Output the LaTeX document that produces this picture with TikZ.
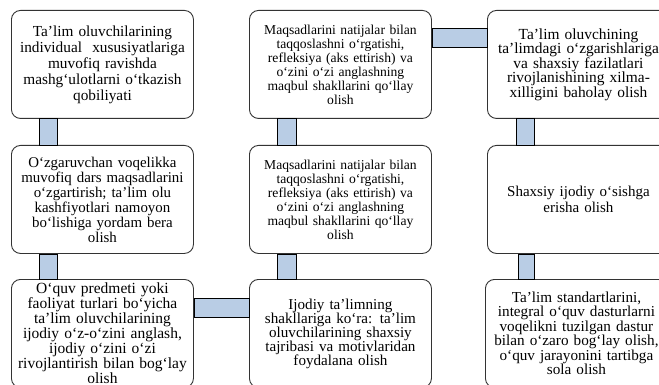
\documentclass[tikz,border=0pt]{standalone}
\usepackage{fontspec}
\setmainfont{Liberation Serif}
\definecolor{linkblue}{RGB}{185,205,229}
\newcommand{\boxfs}[2]{\fontsize{#1}{#2}\selectfont}

\begin{document}
\begin{tikzpicture}[x=1pt,y=-1pt,
		box/.style={draw=black!80, line width=0.9pt, fill=white, rounded corners=9pt, anchor=north west,
			minimum width=182pt, minimum height=108pt, text width=180pt, inner xsep=1pt, align=center},
		link/.style={fill=linkblue, draw=black, line width=0.8pt}]
			\useasboundingbox (0,0) rectangle (659,385);
			\clip (0,0) rectangle (659,385);

			% left column
			\node[box, font=\boxfs{15.3}{16}] (a1) at (11,10) {Ta’lim oluvchilarining\\ individual\ \ xususiyatlariga\\ muvofiq ravishda\\ mashg‘ulotlarni o‘tkazish\\ qobiliyati};
			\node[box, font=\boxfs{14.9}{15}] (a2) at (11,145) {O‘zgaruvchan voqelikka\\ muvofiq dars maqsadlarini\\ o‘zgartirish; ta’lim olu\\ kashfiyotlari namoyon\\ bo‘lishiga yordam bera\\ olish};
			\node[box, font=\boxfs{15.5}{15}] (a3) at (11,279) {O‘quv predmeti yoki\\ faoliyat turlari bo‘yicha\\ ta’lim oluvchilarining\\ ijodiy o‘z-o‘zini anglash,\\ ijodiy o‘zini o‘zi\\ rivojlantirish bilan bog‘lay\\ olish};

			% middle column
			\node[box, font=\boxfs{13.6}{14}] (b1) at (249,10) {Maqsadlarini natijalar bilan\\ taqqoslashni o‘rgatishi,\\ refleksiya (aks ettirish) va\\ o‘zini o‘zi anglashning\\ maqbul shakllarini qo‘llay\\ olish};
			\node[box, font=\boxfs{13.6}{14}] (b2) at (249,145) {Maqsadlarini natijalar bilan\\ taqqoslashni o‘rgatishi,\\ refleksiya (aks ettirish) va\\ o‘zini o‘zi anglashning\\ maqbul shakllarini qo‘llay\\ olish};
			\node[box, font=\boxfs{15.1}{14}] (b3) at (249,279) {Ijodiy ta’limning\\ shakllariga ko‘ra: ta’lim\\ oluvchilarining shaxsiy\\ tajribasi va motivlaridan\\ foydalana olish};

			% right column
			\node[box, font=\boxfs{15.4}{14.5}] (c1) at (487,10) {Ta’lim oluvchining\\ ta’limdagi o‘zgarishlariga\\ va shaxsiy fazilatlari\\ rivojlanishining xilma-\\ xilligini baholay olish};
			\node[box, font=\boxfs{15}{16}] (c2) at (487,145) {Shaxsiy ijodiy o‘sishga\\ erisha olish};
			\node[box, font=\boxfs{15.2}{14.5}] (c3) at (485,279) {Ta’lim standartlarini,\\ integral o‘quv dasturlarni\\ voqelikni tuzilgan dastur\\ bilan o‘zaro bog‘lay olish,\\ o‘quv jarayonini tartibga\\ sola olish};

			% links
			\draw[link] ([xshift=28pt]a1.south west) rectangle ([xshift=46pt]a2.north west);
			\draw[link] ([xshift=28pt]a2.south west) rectangle ([xshift=46pt]a3.north west);
			\draw[link] ([xshift=28pt]b1.south west) rectangle ([xshift=47pt]b2.north west);
			\draw[link] ([xshift=28pt]b2.south west) rectangle ([xshift=47pt]b3.north west);
			\draw[link] ([xshift=29pt]c1.south west) rectangle ([xshift=47pt]c2.north west);
			\draw[link] ([xshift=31pt]c2.south west) rectangle ([xshift=49pt]c3.north west);
			\draw[link] ([yshift=-18pt]b1.north east) rectangle ([yshift=-37pt]c1.north west);
			\draw[link] ([yshift=-19pt]a3.north east) rectangle ([yshift=-38pt]b3.north west);
		\end{tikzpicture}
\end{document}
